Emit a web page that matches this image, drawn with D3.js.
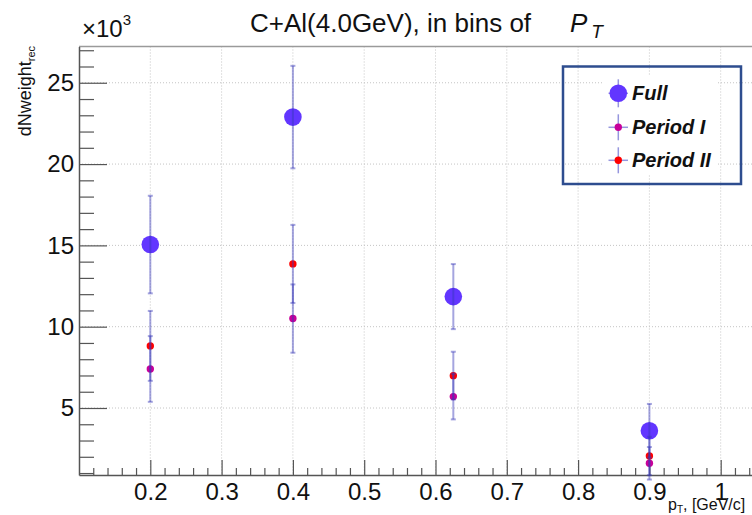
<!DOCTYPE html>
<html>
<head>
<meta charset="utf-8">
<script src="https://cdn.jsdelivr.net/npm/d3@7"></script>
<style>
  html, body { margin: 0; padding: 0; background: #fff; }
  svg { display: block; }
  text { font-family: "Liberation Sans", Arial, Helvetica, sans-serif; }
</style>
</head>
<body>
<svg id="chart" width="752" height="515"></svg>
<script>
// ---- data (values in units of 10^3) ----
const ptBins = [0.2, 0.4, 0.625, 0.9];
const fullValues = [15.05, 22.89, 11.85, 3.60];
const fullErrors = [3.0, 3.15, 2.0, 1.65];
const period1Values = [7.4, 10.5, 5.7, 1.6];
const period1Errors = [2.02, 2.1, 1.4, 1.0];
const period2Values = [8.82, 13.86, 6.99, 2.05];
const period2Errors = [2.15, 2.4, 1.47, 1.18];
const xTickValues = [0.2, 0.3, 0.4, 0.5, 0.6, 0.7, 0.8, 0.9, 1.0];
const xTickLabels = ["0.2", "0.3", "0.4", "0.5", "0.6", "0.7", "0.8", "0.9", "1"];
const yTickValues = [5, 10, 15, 20, 25];
const yTickLabels = ["5", "10", "15", "20", "25"];
const seriesNames = ["Full", "Period I", "Period II"];

(function () {
const series = [
  { name: seriesNames[0], values: fullValues, errors: fullErrors, color: "#6236ff", r: 8.8 },
  { name: seriesNames[1], values: period1Values, errors: period1Errors, color: "#c8009a", r: 3.7 },
  { name: seriesNames[2], values: period2Values, errors: period2Errors, color: "#ff0000", r: 3.7 }
];

const svg = d3.select("#chart");
const pLeft = 79, pTop = 46.5, pBottom = 475, pRight = 792;

const x = d3.scaleLinear().domain([0.1, 1.1]).range([pLeft, pRight]);
const y = d3.scaleLinear().domain([0.88, 27.23]).range([pBottom, pTop]);

// grid
const grid = svg.append("g").attr("stroke", "#c4c4c4").attr("stroke-width", 1).attr("stroke-dasharray", "1,2");
grid.selectAll("line.vx").data(xTickValues).enter().append("line")
  .attr("x1", d => x(d)).attr("x2", d => x(d)).attr("y1", pTop).attr("y2", pBottom);
grid.selectAll("line.hy").data(yTickValues).enter().append("line")
  .attr("x1", pLeft).attr("x2", pRight).attr("y1", d => y(d)).attr("y2", d => y(d));

// frame top
svg.append("line").attr("x1", pLeft).attr("x2", pRight).attr("y1", pTop).attr("y2", pTop)
  .attr("stroke", "#9a9a9a").attr("stroke-width", 1.5);

// x axis
const xMinor = d3.range(0.12, 1.1001, 0.02).filter(v => !xTickValues.some(t => Math.abs(t - v) < 1e-6));
const xAxisMajor = d3.axisBottom(x).tickValues(xTickValues).tickSizeInner(-15).tickSizeOuter(0)
  .tickPadding(24).tickFormat((d, i) => xTickLabels[i]);
const gx = svg.append("g").attr("transform", `translate(0,${pBottom})`).call(xAxisMajor);
gx.select(".domain").attr("stroke", "#555").attr("stroke-width", 1.5);
gx.selectAll(".tick line").attr("stroke", "#555").attr("stroke-width", 1.2);
gx.selectAll(".tick text").attr("font-size", 24).attr("fill", "#111").attr("dy", 0).attr("y", 25);
const gxm = svg.append("g").attr("transform", `translate(0,${pBottom})`)
  .call(d3.axisBottom(x).tickValues(xMinor).tickSizeInner(-7).tickSizeOuter(0).tickFormat(""));
gxm.select(".domain").remove();
gxm.selectAll(".tick line").attr("stroke", "#555").attr("stroke-width", 1.2);

// y axis
const yMinor = d3.range(1, 28, 1).filter(v => !yTickValues.includes(v));
const gy = svg.append("g").attr("transform", `translate(${pLeft},0)`)
  .call(d3.axisLeft(y).tickValues(yTickValues).tickSizeInner(-28).tickSizeOuter(0)
    .tickPadding(6).tickFormat((d, i) => yTickLabels[i]));
gy.select(".domain").attr("stroke", "#555").attr("stroke-width", 1.5);
gy.selectAll(".tick line").attr("stroke", "#555").attr("stroke-width", 1.2);
gy.selectAll(".tick text").attr("font-size", 24).attr("fill", "#111").attr("x", -5);
const gym = svg.append("g").attr("transform", `translate(${pLeft},0)`)
  .call(d3.axisLeft(y).tickValues(yMinor).tickSizeInner(-15).tickSizeOuter(0).tickFormat(""));
gym.select(".domain").remove();
gym.selectAll(".tick line").attr("stroke", "#555").attr("stroke-width", 1.2);

// markers
const pts = svg.append("g");
series.forEach(s => {
  pts.selectAll(null).data(s.values).enter().append("circle")
    .attr("cx", (d, i) => x(ptBins[i])).attr("cy", d => y(d)).attr("r", s.r).attr("fill", s.color);
});

// error bars (drawn on top, semi-transparent)
const errColor = "rgba(55,55,185,0.45)";
const eb = svg.append("g").attr("stroke", errColor).attr("stroke-width", 2);
series.forEach(s => {
  s.values.forEach((v, i) => {
    const cx = x(ptBins[i]);
    eb.append("line").attr("x1", cx).attr("x2", cx).attr("y1", y(v - s.errors[i])).attr("y2", y(v + s.errors[i]));
    [v - s.errors[i], v + s.errors[i]].forEach(e => {
      eb.append("line").attr("x1", cx - 2.5).attr("x2", cx + 2.5).attr("y1", y(e)).attr("y2", y(e));
    });
  });
});

// title
const title = svg.append("text").attr("x", 250).attr("y", 32).attr("font-size", 26).attr("fill", "#111");
title.append("tspan").text("C+Al(4.0GeV), in bins of");
title.append("tspan").attr("x", 570).attr("font-style", "italic").text("P");
title.append("tspan").attr("font-style", "italic").attr("font-size", 19).attr("dy", 6).attr("dx", 4).text("T");

// x10^3
const mult = svg.append("text").attr("x", 82).attr("y", 36.5).attr("font-size", 24).attr("fill", "#111");
mult.append("tspan").text("\u00d710");
mult.append("tspan").attr("font-size", 15).attr("dy", -12).text("3");

// y label
const ylab = svg.append("text").attr("transform", "translate(31,46) rotate(-90)")
  .attr("text-anchor", "end").attr("font-size", 18).attr("fill", "#111");
ylab.append("tspan").text("dNweight");
ylab.append("tspan").attr("font-size", 11).attr("dy", 4).text("rec");

// x label
const xlab = svg.append("text").attr("x", 668).attr("y", 510).attr("font-size", 16).attr("fill", "#111");
xlab.append("tspan").text("p");
xlab.append("tspan").attr("font-size", 10).attr("dy", 3).text("T");
xlab.append("tspan").attr("dy", -3).text(", [GeV/c]");

// legend
const lg = svg.append("g");
lg.append("rect").attr("x", 603).attr("y", 75).attr("width", 113).attr("height", 100).attr("fill", "#fff");
lg.append("rect").attr("x", 563).attr("y", 66.5).attr("width", 178).attr("height", 117.5)
  .attr("fill", "none").attr("stroke", "#2e4d8f").attr("stroke-width", 2.5);
const legY = [93.3, 127.3, 160.3];
const legVert = [14, 13, 13];
series.forEach((s, i) => {
  const cy = legY[i];
  lg.append("line").attr("x1", 618.3).attr("x2", 618.3).attr("y1", cy - legVert[i]).attr("y2", cy + legVert[i])
    .attr("stroke", "rgba(80,80,200,0.6)").attr("stroke-width", 1.5);
  lg.append("line").attr("x1", 608.5).attr("x2", 628).attr("y1", cy).attr("y2", cy)
    .attr("stroke", "rgba(80,80,200,0.6)").attr("stroke-width", 1.5);
  lg.append("circle").attr("cx", 618.3).attr("cy", cy).attr("r", s.r).attr("fill", s.color);
  lg.append("text").attr("x", 632).attr("y", cy + 7).attr("font-size", 20).attr("font-weight", "bold")
    .attr("font-style", "italic").attr("fill", "#111").text(s.name);
});
})();
</script>
</body>
</html>
